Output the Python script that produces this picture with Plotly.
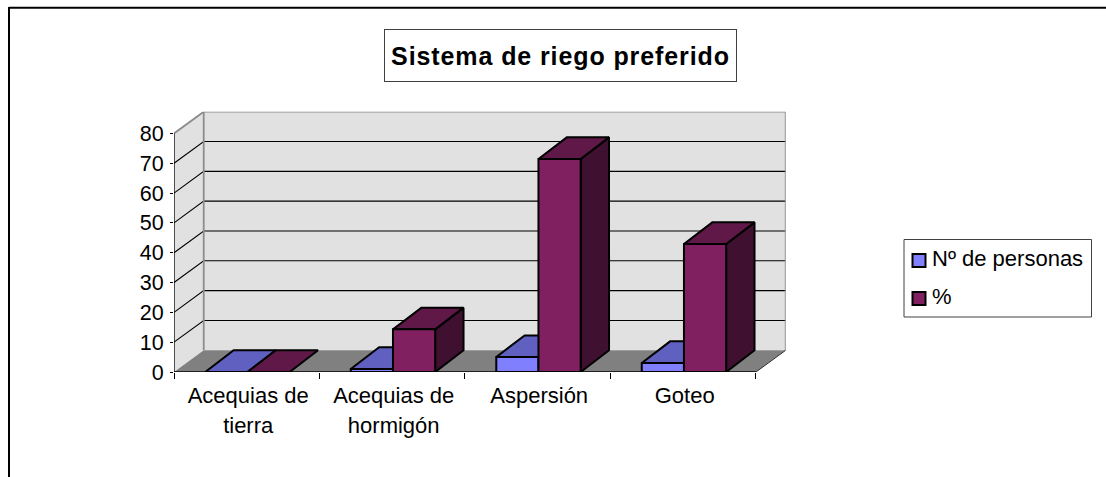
import plotly.graph_objects as go

TITLE = "Sistema de riego preferido"
categories = ["Acequias de<br>tierra", "Acequias de<br>hormigón", "Aspersión", "Goteo"]
series_names = ["Nº de personas", "%"]
personas = [0, 1, 5, 3]
porcentaje = [0, 14.3, 71.4, 42.9]
y_ticks = [0, 10, 20, 30, 40, 50, 60, 70, 80]

W, H = 1106, 477
FONT = "Liberation Sans, Arial, sans-serif"
px = lambda v: v / W
py = lambda v: 1 - v / H

# oblique depth, in axis units
WALL_DX, DY = 0.2043, 7.28
BAR_DX = 0.195
GAP, BAR_W = 0.215, 0.29
N = len(categories)
Y_MAX = y_ticks[-1]

FILLS = {
    0: dict(front="#8080FF", top="#6060C0", side="#404080"),
    1: dict(front="#802060", top="#601848", side="#401030"),
}

fig = go.Figure()


def poly(xs, ys, fill, line="rgba(0,0,0,0)", width=0):
    fig.add_trace(go.Scatter(x=xs + xs[:2], y=ys + ys[:2], mode="lines", fill="toself", fillcolor=fill,
                             line=dict(color=line, width=width, simplify=False), cliponaxis=False,
                             hoverinfo="skip", showlegend=False))


def lines(xs, ys, color, width):
    fig.add_trace(go.Scatter(x=xs, y=ys, mode="lines", line=dict(color=color, width=width),
                             cliponaxis=False, hoverinfo="skip", showlegend=False))


# walls and floor
poly([WALL_DX, N + WALL_DX, N + WALL_DX, WALL_DX], [DY, DY, Y_MAX + DY, Y_MAX + DY], "#E1E1E1")
poly([0, WALL_DX, WALL_DX, 0], [0, DY, Y_MAX + DY, Y_MAX], "#E1E1E1")
poly([0, N, N + WALL_DX, WALL_DX], [0, 0, DY, DY], "#808080")

# gridlines on both walls
gx, gy = [], []
for v in y_ticks[1:-1]:
    gx += [0, WALL_DX, N + WALL_DX, None]
    gy += [v, v + DY, v + DY, None]
lines(gx, gy, "#000000", 1.1)

# wall edges
lines([0, WALL_DX, N + WALL_DX, N + WALL_DX], [Y_MAX, Y_MAX + DY, Y_MAX + DY, DY], "#8C8C8C", 1.8)
lines([WALL_DX, WALL_DX], [DY, Y_MAX + DY], "#8C8C8C", 1.8)
lines([N, N + WALL_DX], [0, DY], "#303030", 1)
# axis lines
lines([0, 0], [0, Y_MAX], "#000000", 1.3)
lines([0, N], [0, 0], "#000000", 1.3)

# bars
for i in range(N):
    for s, values in enumerate([personas, porcentaje]):
        v = values[i]
        x0 = i + GAP + s * BAR_W
        x1 = x0 + BAR_W
        c = FILLS[s]
        kw = dict(line="#000000", width=2)
        if v > 0:
            poly([x1, x1 + BAR_DX, x1 + BAR_DX, x1], [0, DY, v + DY, v], c["side"], **kw)
        poly([x0, x1, x1 + BAR_DX, x0 + BAR_DX], [v, v, v + DY, v + DY], c["top"], **kw)
        if v > 0:
            poly([x0, x1, x1, x0], [0, 0, v, v], c["front"], **kw)

shapes = [
    dict(type="line", xref="paper", yref="paper", x0=px(9), x1=1, y0=py(7.7), y1=py(7.7),
         line=dict(color="#000000", width=2)),
    dict(type="line", xref="paper", yref="paper", x0=px(9), x1=px(9), y0=py(7), y1=0,
         line=dict(color="#000000", width=2)),
    dict(type="rect", xref="paper", yref="paper", x0=px(904), x1=px(1091.5), y0=py(239.5), y1=py(317),
         line=dict(color="#404040", width=1), fillcolor="#FFFFFF"),
    dict(type="rect", xref="paper", yref="paper", x0=px(912.5), x1=px(925.5), y0=py(254), y1=py(267),
         line=dict(color="#000000", width=2), fillcolor=FILLS[0]["front"]),
    dict(type="rect", xref="paper", yref="paper", x0=px(912.5), x1=px(925.5), y0=py(292), y1=py(305),
         line=dict(color="#000000", width=2), fillcolor=FILLS[1]["front"]),
]

annotations = [
    dict(text='<span style="letter-spacing:0.9px"><b>%s</b></span>' % TITLE, xref="paper", yref="paper",
         x=px(560), y=py(55),
         xanchor="center", yanchor="middle", showarrow=False, width=351, height=51,
         bordercolor="#404040", borderwidth=1, borderpad=0, bgcolor="#FFFFFF",
         font=dict(family=FONT, size=25, color="#000000")),
    dict(text=series_names[0], xref="paper", yref="paper", x=px(930), y=py(258),
         xanchor="left", yanchor="middle", showarrow=False,
         font=dict(family=FONT, size=22, color="#000000")),
    dict(text=series_names[1], xref="paper", yref="paper", x=px(930), y=py(296),
         xanchor="left", yanchor="middle", showarrow=False,
         font=dict(family=FONT, size=22, color="#000000")),
]

fig.update_layout(
    width=W, height=H, margin=dict(l=0, r=0, t=0, b=0, autoexpand=False),
    paper_bgcolor="#FFFFFF", plot_bgcolor="rgba(0,0,0,0)", showlegend=False, hovermode=False,
    shapes=shapes, annotations=annotations,
    xaxis=dict(range=[0, N + WALL_DX], domain=[px(174), px(785.7)], showgrid=False, zeroline=False,
               showline=False, tickmode="array",
               tickvals=[i + 0.51 for i in range(N)],
               ticktext=['<span style="font-size:22px">%s</span>' % c.replace("<br>", '</span><br><span style="font-size:22px">')
                         for c in categories],
               ticks="", ticklabelstandoff=6,
               tickfont=dict(family=FONT, size=23.5, color="#000000"),
               minor=dict(tickmode="array", tickvals=list(range(N + 1)), ticks="outside",
                          ticklen=6, tickwidth=1.3, tickcolor="#000000", showgrid=False)),
    yaxis=dict(range=[0, Y_MAX + DY], domain=[py(372), py(111.7)], showgrid=False, zeroline=False,
               showline=False, tickmode="array", tickvals=y_ticks, ticktext=[str(v) for v in y_ticks],
               ticks="outside", ticklen=3, tickwidth=1.3, tickcolor="#000000", ticklabelstandoff=2,
               tickfont=dict(family=FONT, size=21.5, color="#000000")),
)

fig.write_html("out.html", config=dict(displayModeBar=False),
               post_script="document.body.style.margin='0';document.body.style.overflow='hidden';")
